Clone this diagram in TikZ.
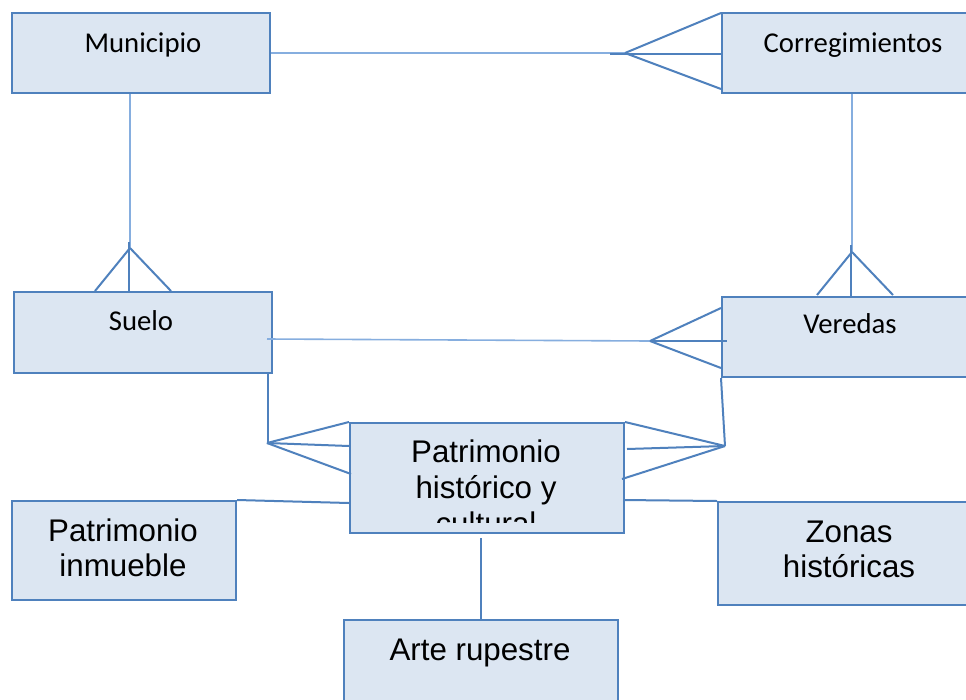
\documentclass[tikz,border=0pt]{standalone}
\usepackage{fontspec}
\newfontfamily\calfont{Carlito}
\newfontfamily\arifont{Liberation Sans}
\usetikzlibrary{calc}
\definecolor{boxfill}{HTML}{DCE6F2}
\definecolor{boxline}{HTML}{4F81BD}
\definecolor{lightline}{HTML}{86AEDF}
\tikzset{
  ent/.style={draw=boxline, fill=boxfill, line width=2pt, anchor=north west, inner sep=0pt},
  calt/.style={anchor=base, inner sep=0pt, font=\calfont\fontsize{28.7}{34}\selectfont},
  arit/.style={anchor=base, inner sep=0pt, font=\arifont\fontsize{31.3}{36}\selectfont},
  dark/.style={draw=boxline, line width=2pt},
  light/.style={draw=lightline, line width=1.6pt}
}
\begin{document}
\begin{tikzpicture}[x=1pt,y=-1pt]
\clip (0,0) rectangle (966,699);
\fill[white] (0,0) rectangle (966,699);
% entity boxes
\node[ent, minimum width=258pt, minimum height=80pt] (mun) at (11,12) {};
\node[ent, minimum width=260pt, minimum height=80pt] (cor) at (721,12) {};
\node[ent, minimum width=258pt, minimum height=81pt] (sue) at (13,291) {};
\node[ent, minimum width=260pt, minimum height=80pt] (ver) at (721,296) {};
\node[ent, minimum width=274pt, minimum height=110pt] (pat) at (349,422) {};
\node[ent, minimum width=224pt, minimum height=99pt] (inm) at (11,500) {};
\node[ent, minimum width=264pt, minimum height=103pt] (zon) at (717,501) {};
\node[ent, minimum width=274pt, minimum height=100pt] (art) at (343,619) {};
% texts
\node[calt] (munT) at (143,52) {Municipio};
\node[calt] (corT) at (853,52) {Corregimientos};
\node[calt] (sueT) at (141,330) {Suelo};
\node[calt] (verT) at (850,333) {Veredas};
\begin{scope}
\clip (349,424) rectangle (623,522);
\node[arit] (patT1) at (486,462) {Patrimonio};
\node[arit] (patT2) at (486,498) {histórico y};
\node[arit] (patT3) at (486,534) {cultural};
\end{scope}
\node[arit] (inmT1) at (123,541) {Patrimonio};
\node[arit] (inmT2) at (123,576) {inmueble};
\node[arit] (zonT1) at (849,542) {Zonas};
\node[arit] (zonT2) at (849,577) {históricas};
\node[arit] (artT) at (480,660) {Arte rupestre};
% crow's foot vertices
\coordinate (v1) at (625,53);
\coordinate (v2) at (130,248);
\coordinate (v3) at (852,252);
\coordinate (v4) at (650,341);
\coordinate (v5) at (267,443);
\coordinate (v6) at (725,446);
% Municipio - Corregimientos
\draw[light] (mun.east) -- (v1);
\draw[dark] (610,54) -- (cor.west |- 0,54);
\draw[dark] (v1) -- ($(cor.north west)+(0,1)$);
\draw[dark] (v1) -- ($(cor.south west)+(0,-5)$);
% Municipio - Suelo
\draw[light] (mun.south -| v2) -- (v2);
\draw[dark] (129,242) -- (sue.north -| 129,0);
\draw[dark] (v2) -- (sue.north -| 95,0);
\draw[dark] (v2) -- (sue.north -| 171,0);
% Corregimientos - Veredas
\draw[light] (cor.south -| v3) -- (v3);
\draw[dark] (851,245) -- (ver.north -| 851,0);
\draw[dark] (v3) -- (817,295);
\draw[dark] (v3) -- (893,295);
% Suelo - Veredas
\draw[light] (267,339) -- (v4);
\draw[dark] (v4) -- (721,308);
\draw[dark] (v4) -- (727,341);
\draw[dark] (v4) -- (721,368);
% Suelo - Patrimonio
\draw[dark] (sue.south -| 268,0) -- (268,443);
\draw[dark] (v5) -- (pat.north west);
\draw[dark] (v5) -- (349,446);
\draw[dark] (v5) -- (351,474);
% Veredas - Patrimonio
\draw[dark] (ver.south west) -- (v6);
\draw[dark] (v6) -- (pat.north east);
\draw[dark] (v6) -- (627,449);
\draw[dark] (v6) -- (622,479);
% attribute links
\draw[dark] (inm.north east) -- (349,503);
\draw[dark] (623,500) -- (zon.north west);
\draw[dark] (pat.south -| 481,0) ++(0,4) -- (art.north -| 481,0);
\end{tikzpicture}
\end{document}
